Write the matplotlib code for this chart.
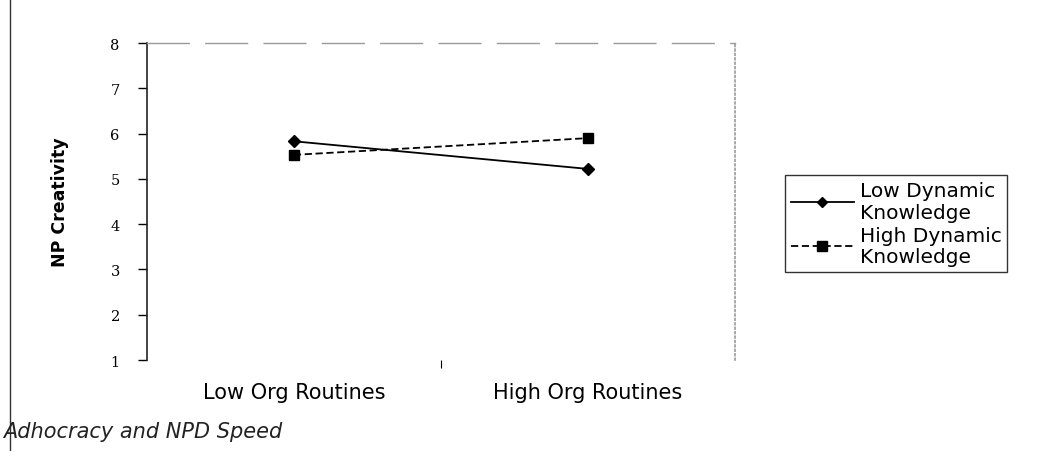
import numpy as np
import matplotlib.pyplot as plt

categories = ['Low Org Routines', 'High Org Routines']
low_dynamic = [5.83, 5.22]
high_dynamic = [5.53, 5.90]
y_ticks = [1, 2, 3, 4, 5, 6, 7, 8]

fig = plt.figure(figsize=(10.49, 4.52), dpi=100)
ax = fig.add_axes([0.140, 0.2013, 0.5607, 0.7013])

x = np.arange(len(categories))
ax.plot(x, low_dynamic, color='black', linestyle='-', linewidth=1.3,
        marker='D', markersize=6, label='Low Dynamic\nKnowledge')
ax.plot(x, high_dynamic, color='black', linestyle=(0, (4, 2)), linewidth=1.3,
        marker='s', markersize=7, label='High Dynamic\nKnowledge')

ax.set_xlim(-0.5, 1.5)
ax.set_ylim(1, 8)
ax.set_yticks(y_ticks)
ax.set_yticklabels([str(v) for v in y_ticks], fontfamily='serif', fontsize=10.5)
ax.tick_params(axis='y', length=6.5, width=1, pad=13)
ax.set_xticks(x)
ax.set_xticklabels(categories, fontsize=15, fontfamily='DejaVu Sans')
ax.tick_params(axis='x', length=0, pad=16)
ax.set_xticks([0.5], minor=True)
ax.tick_params(axis='x', which='minor', length=6, width=0.8, direction='out')

ax.spines['left'].set_color('#222222')
ax.spines['left'].set_linewidth(1.2)
ax.spines['bottom'].set_visible(False)
ax.spines['top'].set_color('#9a9a9a')
ax.spines['top'].set_linestyle((0, (30, 12)))
ax.spines['top'].set_linewidth(1.0)
ax.spines['right'].set_color('#9a9a9a')
ax.spines['right'].set_linestyle(':')
ax.spines['right'].set_linewidth(1.2)

ax.set_ylabel('NP Creativity', fontsize=12.5, fontweight='bold', labelpad=30)

leg = ax.legend(loc='center left', bbox_to_anchor=(1.068, 0.43), frameon=True,
                fancybox=False, edgecolor='black', fontsize=14.5,
                handlelength=3.1, borderpad=0.3, labelspacing=0.2,
                handletextpad=0.3)
leg.get_frame().set_linewidth(1.0)
for t in leg.get_texts():
    t.set_linespacing(1.15)
leg.legend_handles[0].set_markersize(5)
leg.legend_handles[1].set_markersize(7)

# left edge of the scanned page and caption
fig.add_artist(plt.Line2D([0.0095, 0.0095], [0.0, 1.0], color='#333333',
                          linewidth=1.0, transform=fig.transFigure))
fig.text(0.003, 0.045, 'Adhocracy and NPD Speed', fontsize=15,
         style='italic', ha='left', va='center', color='#222222')

fig.savefig('out.png', dpi=100)
